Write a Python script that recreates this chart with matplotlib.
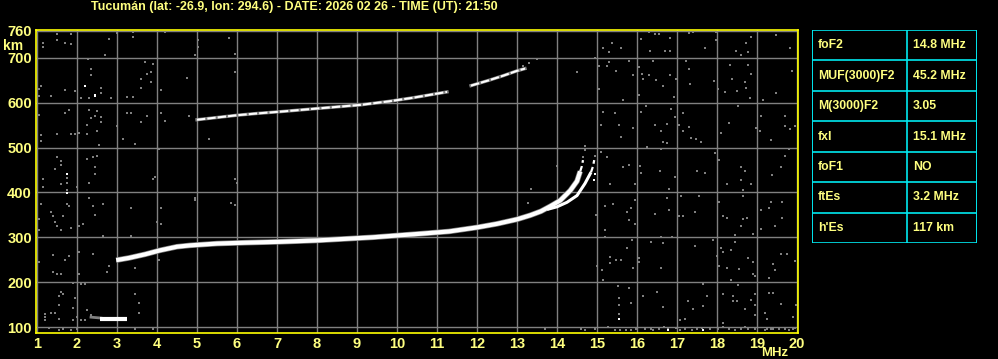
import matplotlib
matplotlib.use('Agg')
import matplotlib.pyplot as plt

plt.rcParams['font.family'] = ['Liberation Sans', 'DejaVu Sans']

TITLE = 'Tucumán (lat: -26.9, lon: 294.6) - DATE: 2026 02 26 - TIME (UT): 21:50'
FREQ_TICKS = list(range(1, 21))
HEIGHT_TICKS = [100, 200, 300, 400, 500, 600, 700, 760]

PARAM_NAMES = ['foF2', 'MUF(3000)F2', 'M(3000)F2', 'fxI', 'foF1', 'ftEs', "h'Es"]
PARAM_VALUES = ['14.8 MHz', '45.2 MHz', '3.05', '15.1 MHz', 'NO', '3.2 MHz', '117 km']

# F2 ordinary trace
f2o_freq = [2.98, 3.3, 3.7, 4.08, 4.5, 4.83, 5.5, 6.2, 7.08, 8.0, 9.0, 9.4, 10.0,
            10.6, 11.3, 12.0, 12.5, 13.0, 13.33, 13.6, 13.83, 14.08, 14.33, 14.5, 14.58]
f2o_height = [249, 254, 262, 271, 279, 282, 286, 288, 290, 293, 298, 300, 304,
              308, 313, 322, 330, 340, 349, 358, 369, 382, 404, 425, 447]
f2o_top_freq = [14.58, 14.62, 14.65]
f2o_top_height = [447, 458, 472]

# F2 extraordinary trace
f2x_freq = [13.75, 14.0, 14.25, 14.5, 14.7, 14.85]
f2x_height = [362, 368, 378, 393, 420, 445]
f2x_top_freq = [14.85, 14.9, 14.93]
f2x_top_height = [445, 458, 472]

# second hop F2
f2h_freq = [5.0, 5.5, 6.0, 6.5, 7.08, 8.0, 9.08, 9.8, 10.4, 11.25]
f2h_height = [562, 567, 572, 576, 580, 587, 595, 603, 611, 624]
f2h2_freq = [11.85, 12.0, 12.3, 12.65, 13.0, 13.2]
f2h2_height = [638, 642, 650, 660, 671, 676]

# sporadic E
es_freq = [2.58, 3.25]
es_height = [118, 118]

# scattered noise echoes (freq MHz, height km)
noise = [
    (16.3, 758), (16.44, 752), (16.54, 752), (16.83, 744), (16.33, 716), (16.69, 716),
    (16.83, 716), (17.29, 756), (17.4, 758), (17.98, 758), (17.98, 739), (17.69, 721),
    (18.73, 733), (18.84, 747), (18.48, 716), (18.61, 707), (18.78, 713), (19.48, 750),
    (19.83, 721), (15.38, 734), (15.15, 721), (15.29, 712), (15.59, 721), (16.09, 743),
    (14.94, 699), (15.04, 681), (15.25, 681), (15.29, 690), (15.48, 670), (15.79, 693),
    (15.89, 661), (16.04, 679), (16.13, 665), (16.14, 652), (16.29, 661), (16.39, 693),
    (16.48, 650), (16.64, 638), (16.83, 661), (16.98, 652), (16.93, 612), (17.23, 693),
    (17.29, 674), (17.33, 641), (17.93, 648), (18.03, 630), (18.19, 624), (18.33, 683),
    (18.38, 652), (18.49, 626), (18.69, 647), (18.73, 633), (18.78, 683), (18.84, 665),
    (18.83, 611), (19.14, 607), (19.48, 621), (19.88, 670), (15.64, 607), (16.04, 617),
    (15.04, 630), (15.15, 580), (15.44, 576), (15.09, 550), (15.54, 550), (15.59, 523),
    (15.89, 544), (16.09, 580), (16.23, 593), (16.44, 550), (16.59, 536), (16.64, 512),
    (16.74, 510), (16.75, 553), (16.84, 585), (16.94, 567), (17.04, 550), (17.14, 578),
    (17.14, 538), (17.29, 545), (17.34, 522), (17.48, 519), (17.59, 513), (18.09, 532),
    (18.29, 554), (18.53, 593), (19.09, 571), (18.98, 544), (19.08, 536), (19.34, 516),
    (19.69, 571), (19.69, 549), (19.94, 549), (19.83, 541), (14.94, 481), (15.09, 491),
    (15.24, 479), (15.33, 419), (15.64, 456), (15.79, 461), (15.94, 419), (16.08, 459),
    (16.09, 443), (16.25, 502), (16.59, 496), (16.58, 447), (16.79, 407), (16.94, 434),
    (17.49, 447), (17.69, 443), (17.94, 487), (18.04, 473), (18.24, 419), (18.59, 456),
    (18.69, 447), (18.6, 427), (18.64, 405), (18.84, 419), (19.38, 439), (19.59, 456),
    (19.69, 482), (19.79, 496), (14.98, 350), (15.19, 370), (15.39, 374), (15.74, 356),
    (15.79, 339), (15.84, 365), (15.94, 383), (15.94, 330), (15.19, 316), (15.19, 301),
    (16.44, 352), (16.74, 387), (16.79, 361), (16.59, 301), (16.88, 301), (17.04, 347),
    (17.14, 347), (17.09, 392), (17.44, 356), (17.54, 392), (18.04, 379), (18.14, 347),
    (18.24, 343), (18.44, 304), (18.64, 340), (18.74, 342), (18.59, 325), (18.64, 392),
    (18.89, 307), (19.09, 361), (19.09, 319), (19.29, 365), (19.34, 379), (19.44, 325),
    (19.63, 379), (19.63, 344), (14.99, 236), (15.13, 227), (15.33, 256), (15.33, 243),
    (15.48, 250), (15.59, 250), (15.74, 276), (15.88, 294), (15.89, 232), (16.04, 254),
    (16.04, 245), (16.34, 290), (16.59, 232), (16.64, 287), (17.44, 281), (17.89, 295),
    (17.99, 259), (18.04, 236), (18.09, 276), (18.14, 267), (18.24, 232), (18.34, 272),
    (18.45, 290), (18.54, 230), (18.78, 254), (18.89, 245), (18.89, 219), (18.94, 214),
    (19.29, 210), (19.39, 241), (19.44, 227), (19.59, 263), (19.74, 263), (19.94, 247),
    (15.14, 205), (15.53, 192), (15.54, 165), (15.54, 150), (15.54, 128), (15.79, 187),
    (15.84, 153), (16.14, 170), (16.49, 179), (16.64, 145), (17.08, 115), (17.19, 119),
    (17.28, 158), (17.39, 141), (17.64, 197), (17.74, 170), (17.64, 147), (18.14, 174),
    (18.14, 108), (18.39, 170), (18.39, 159), (18.49, 159), (18.34, 204), (18.53, 194),
    (18.69, 141), (18.84, 161), (18.94, 174), (18.94, 150), (18.94, 127), (19.19, 132),
    (19.24, 119), (19.29, 176), (19.39, 176), (19.59, 152), (19.89, 123), (19.98, 150),
    (14.94, 95), (15.27, 100), (15.44, 93), (15.58, 93), (15.73, 93), (15.84, 93),
    (15.98, 96), (16.19, 96), (16.34, 96), (16.39, 94), (16.54, 96), (16.68, 100),
    (16.78, 96), (16.98, 97), (17.08, 94), (17.19, 96), (17.38, 94), (17.5, 96),
    (17.63, 98), (17.83, 96), (18.02, 96), (18.15, 100), (18.29, 96), (18.45, 93),
    (18.59, 96), (18.69, 99), (18.78, 96), (18.94, 96), (19.19, 94), (19.24, 96),
    (19.34, 96), (19.39, 96), (19.54, 96), (19.69, 96), (19.79, 94), (19.89, 96),
    (19.94, 97), (14.6, 95), (13.7, 96), (14.7, 93),
    (1.5, 752), (1.85, 752), (1.14, 734), (1.14, 725), (1.5, 739), (1.7, 734),
    (1.85, 731), (2.8, 743), (2.7, 707), (3.39, 758), (3.39, 747), (4.19, 758),
    (3.0, 756), (2.27, 697), (2.35, 674), (2.35, 661), (2.6, 633), (2.6, 622),
    (2.1, 610), (2.3, 611), (1.95, 627), (1.7, 629), (1.35, 616), (1.1, 638),
    (1.05, 630), (1.05, 616), (2.85, 611), (3.25, 613), (3.4, 613), (3.6, 653),
    (3.7, 691), (3.9, 687), (3.85, 669), (3.75, 663), (3.85, 647), (3.6, 633),
    (4.1, 629), (4.75, 656), (1.8, 584), (1.7, 576), (1.5, 531), (1.85, 531),
    (1.95, 531), (2.05, 533), (2.25, 531), (2.5, 536), (2.3, 584), (2.35, 565),
    (2.45, 570), (2.5, 581), (2.6, 567), (2.6, 558), (2.25, 551), (2.55, 506),
    (1.1, 527), (1.1, 515), (1.05, 572), (3.15, 518), (3.45, 509), (3.25, 576),
    (3.35, 576), (3.6, 556), (3.75, 571), (4.1, 576), (4.2, 559), (4.8, 570),
    (3.0, 547), (1.5, 478), (1.6, 470), (1.6, 461), (1.45, 453), (1.6, 419),
    (1.15, 429), (1.15, 411), (2.0, 411), (2.25, 474), (2.4, 478), (2.5, 482),
    (2.45, 456), (2.45, 441), (2.3, 422), (3.95, 435), (3.9, 429), (4.05, 496),
    (4.95, 387), (1.1, 374), (1.35, 356), (1.4, 348), (1.65, 347), (1.5, 325),
    (1.6, 316), (1.45, 334), (1.85, 321), (1.75, 374), (1.8, 370), (2.3, 387),
    (2.4, 370), (2.45, 349), (2.65, 374), (2.05, 325), (2.15, 330), (1.05, 341),
    (1.05, 316), (3.35, 365), (4.1, 365), (4.1, 330), (4.0, 334), (3.35, 303),
    (2.65, 303), (1.4, 260), (1.7, 250), (1.8, 259), (2.05, 267), (2.05, 219),
    (1.4, 223), (1.5, 219), (1.6, 219), (2.4, 263), (2.8, 236), (2.75, 223),
    (3.45, 232), (4.05, 250), (1.05, 245), (1.9, 199), (2.1, 196), (2.2, 196),
    (1.6, 179), (1.55, 170), (1.65, 174), (1.55, 150), (1.95, 165), (1.9, 142),
    (1.2, 122), (1.2, 128), (1.2, 116), (1.35, 132), (1.45, 132), (1.55, 117),
    (1.9, 115), (2.0, 122), (2.1, 115), (2.2, 115), (2.25, 137), (2.35, 126),
    (3.45, 174), (3.55, 154), (3.55, 132), (3.45, 96), (3.9, 96), (1.3, 98),
    (1.55, 93), (1.65, 96), (1.85, 93), (2.0, 96), (1.75, 405), (1.75, 420),
    (1.75, 432), (5.03, 740), (5.03, 723), (4.95, 707), (5.8, 744), (5.95, 709),
    (5.95, 669), (13.5, 698), (14.5, 669), (13.15, 682), (13.3, 688), (5.3, 520),
    (5.95, 431), (6.0, 420), (4.95, 384), (5.85, 376), (5.95, 371), (14.0, 458),
    (13.35, 407), (13.28, 376), (14.7, 504), (14.7, 494), (14.65, 478),
]
bright_noise = [(2.2, 638), (2.45, 618), (2.45, 614), (15.54, 117), (16.78, 93),
                (17.64, 93), (1.75, 398), (1.75, 440), (14.95, 440), (14.92, 428)]

BG = 'black'
YELLOW = '#ffff00'
LABEL = '#ffff80'
GRID = '#808080'
CYAN = '#00e8f0'

fig = plt.figure(figsize=(9.98, 3.59), dpi=100, facecolor=BG)
ax = fig.add_axes([36 / 998, 1 - 333 / 359, 762 / 998, 303 / 359], facecolor=BG)

ax.set_xlim(0.975, 20.025)
ax.set_ylim(86.7, 762)
ax.set_xticks(FREQ_TICKS)
ax.set_yticks(HEIGHT_TICKS)
ax.grid(True, color=GRID, linewidth=1.0)
ax.set_axisbelow(True)
for sp in ax.spines.values():
    sp.set_color(YELLOW)
    sp.set_linewidth(1.2)
ax.tick_params(length=0, colors=LABEL, labelsize=10.5, pad=3)
for lbl in ax.get_xticklabels() + ax.get_yticklabels():
    lbl.set_fontweight('bold')

nf = [p[0] for p in noise]
nh = [p[1] for p in noise]
ax.plot(nf, nh, 's', color=GRID, markersize=2.0, markeredgewidth=0, zorder=2)
ax.plot([p[0] for p in bright_noise], [p[1] for p in bright_noise], 's',
        color='white', markersize=1.8, markeredgewidth=0, zorder=2)

# echo traces
ax.plot(f2o_freq, f2o_height, color=GRID, linewidth=4.0, solid_capstyle='butt', zorder=3)
ax.plot(f2o_freq, f2o_height, color='white', linewidth=3.0, solid_capstyle='butt', zorder=4)
ax.plot(f2o_top_freq, f2o_top_height, color='white', linewidth=1.6, dashes=(2.5, 1.5), zorder=4)
ax.plot(f2x_freq, f2x_height, color='white', linewidth=2.2, solid_capstyle='butt', zorder=4)
ax.plot(f2x_top_freq, f2x_top_height, color='white', linewidth=1.6, dashes=(2.5, 1.5), zorder=4)
ax.plot(f2h_freq, f2h_height, color=GRID, linewidth=2.4, zorder=3)
ax.plot(f2h_freq, f2h_height, color='white', linewidth=1.5, dashes=(4, 1), zorder=4)
ax.plot(f2h2_freq, f2h2_height, color=GRID, linewidth=2.4, zorder=3)
ax.plot(f2h2_freq, f2h2_height, color='white', linewidth=1.5, dashes=(4, 1), zorder=4)
ax.plot(es_freq, es_height, color='white', linewidth=3.0, solid_capstyle='butt', zorder=4)
ax.plot([2.35, 2.6], [122, 120], color=GRID, linewidth=2.0, zorder=3)

fig.text(294.5 / 998, 1 - 7 / 359, TITLE, color=LABEL, fontsize=9.0,
         fontweight='bold', ha='center', va='center')
fig.text(13 / 998, 1 - 46 / 359, 'km', color=LABEL, fontsize=10,
         fontweight='bold', ha='center', va='center')
fig.text(788 / 998, 1 - 353 / 359, 'MHz', color=LABEL, fontsize=9.5,
         fontweight='bold', ha='right', va='center')

# parameter table
tab = fig.add_axes([812 / 998, 1 - 243 / 359, 165 / 998, 213 / 359], facecolor=BG)
tab.set_xlim(0, 165)
tab.set_ylim(len(PARAM_NAMES), 0)
tab.axis('off')
for i in range(len(PARAM_NAMES) + 1):
    tab.axhline(i, color=CYAN, linewidth=1.2)
tab.axvline(0, color=CYAN, linewidth=1.4)
tab.axvline(95, color=CYAN, linewidth=1.2)
tab.axvline(165, color=CYAN, linewidth=1.4)
for i, (name, val) in enumerate(zip(PARAM_NAMES, PARAM_VALUES)):
    tab.text(6, i + 0.5, name, color=LABEL, fontsize=8.8, fontweight='bold', va='center')
    tab.text(101, i + 0.5, val, color=LABEL, fontsize=8.8, fontweight='bold', va='center')

fig.savefig('out.png', dpi=100, facecolor=BG)
